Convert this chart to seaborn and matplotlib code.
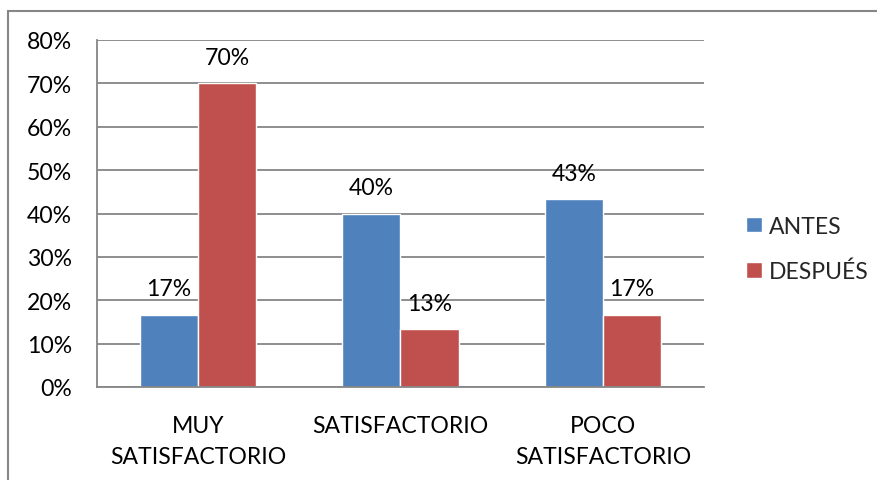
import matplotlib
matplotlib.use("Agg")
import matplotlib.pyplot as plt
import seaborn as sns
import pandas as pd
from matplotlib.lines import Line2D
from matplotlib.ticker import PercentFormatter, FixedLocator

# Survey results: share of answers per satisfaction level, before and after
categories = ["MUY\nSATISFACTORIO", "SATISFACTORIO", "POCO\nSATISFACTORIO"]
series = ["ANTES", "DESPUÉS"]
antes = [0.1667, 0.40, 0.4333]
despues = [0.70, 0.1333, 0.1667]
colors = ["#4F81BD", "#C0504D"]

df = pd.DataFrame({
    "categoria": categories * 2,
    "serie": [series[0]] * len(categories) + [series[1]] * len(categories),
    "valor": antes + despues,
})

sns.set_theme(style="white")
plt.rcParams["font.family"] = ["Lato", "DejaVu Sans"]
FS = 16.6
GRID = "#868686"

W, H = 878, 481
fig = plt.figure(figsize=(W / 100, H / 100), dpi=100)
ax = fig.add_axes([97 / W, 1 - 388 / H, (704 - 97) / W, (388 - 41) / H])

sns.barplot(data=df, x="categoria", y="valor", hue="serie",
            order=categories, hue_order=series, palette=colors,
            width=0.574, saturation=1, errorbar=None, ax=ax)

# value labels above each bar
for cont in ax.containers:
    ax.bar_label(cont, labels=[f"{v * 100:.0f}%" for v in cont.datavalues],
                 padding=11, fontsize=FS, color="black")

ax.set_ylim(0, 0.8)
ax.set_xlim(-0.5, len(categories) - 0.5)
ax.yaxis.set_major_locator(FixedLocator([i / 10 for i in range(9)]))
ax.yaxis.set_major_formatter(PercentFormatter(1.0, decimals=0))
ax.yaxis.grid(True, color=GRID, lw=1.3)
ax.set_axisbelow(True)

ax.set_xticks(range(len(categories)))
ax.set_xticklabels(categories)
ax.xaxis.set_minor_locator(FixedLocator([i - 0.5 for i in range(len(categories) + 1)]))
ax.tick_params(axis="x", which="major", length=0, pad=20, labelsize=FS, labelcolor="black")
ax.tick_params(axis="x", which="minor", length=6, width=1.3, color=GRID, direction="out")
ax.tick_params(axis="y", which="major", length=6, width=1.3, color=GRID, direction="out",
               pad=12, labelsize=FS, labelcolor="black")
for lbl in ax.get_xticklabels():
    lbl.set_linespacing(1.6)
    lbl.set_verticalalignment("top")

ax.set_xlabel("")
ax.set_ylabel("")
for side in ["top", "right"]:
    ax.spines[side].set_visible(False)
for side in ["left", "bottom"]:
    ax.spines[side].set_color(GRID)
    ax.spines[side].set_linewidth(1.3)

leg = ax.legend(loc="center left", bbox_to_anchor=(746 / W, 1 - 250 / H),
                bbox_transform=fig.transFigure, frameon=False, fontsize=FS,
                handlelength=0.68, handleheight=0.68, handletextpad=0.3,
                labelspacing=1.05, borderpad=0, borderaxespad=0)

# chart area outline
fig.add_artist(Line2D([8 / W, 8 / W], [0, 1 - 12 / H], transform=fig.transFigure,
                      color=GRID, lw=1.5))
fig.add_artist(Line2D([8 / W, 1], [1 - 12 / H, 1 - 12 / H], transform=fig.transFigure,
                      color=GRID, lw=1.5))

fig.savefig("out.png", dpi=100)
